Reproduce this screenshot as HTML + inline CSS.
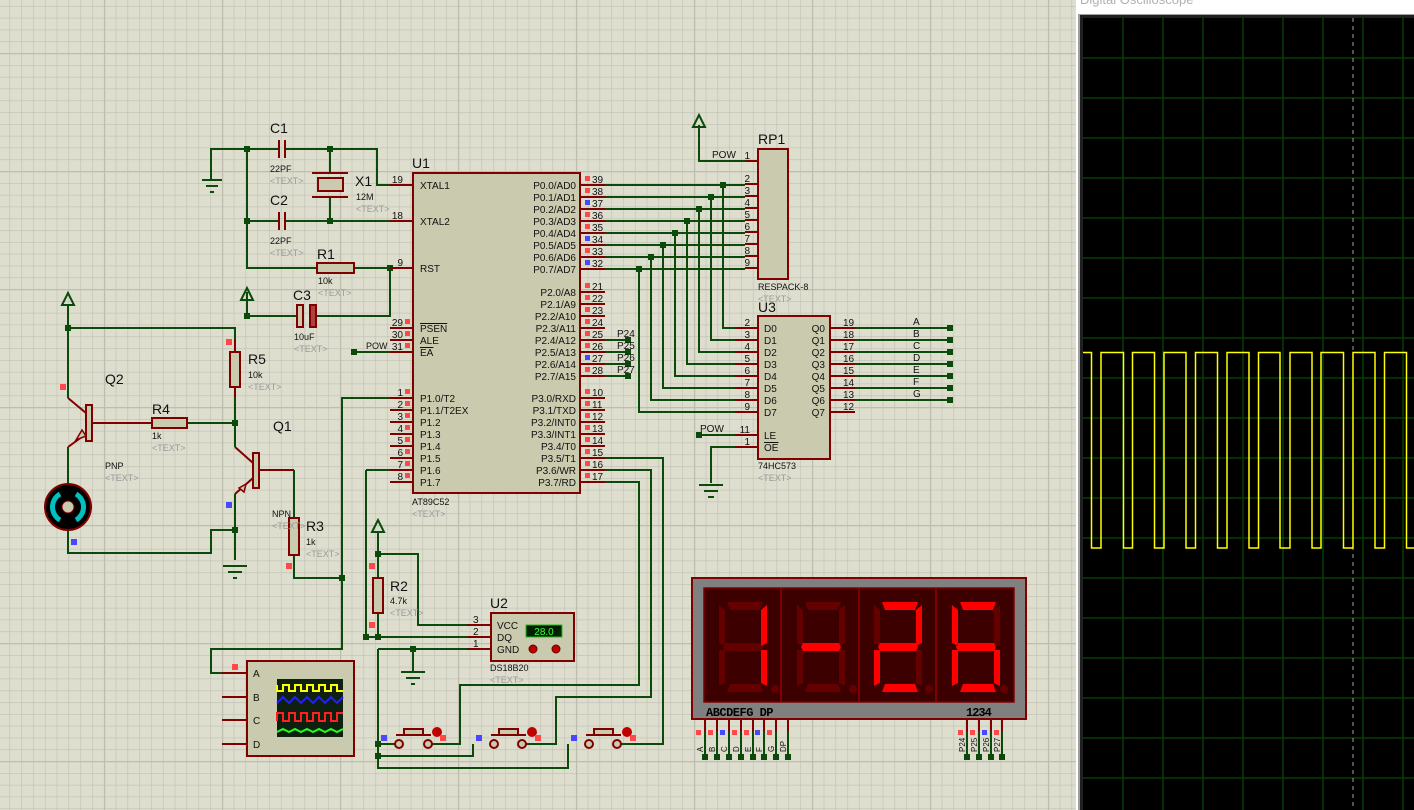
<!DOCTYPE html>
<html><head><meta charset="utf-8"><style>
html,body{margin:0;padding:0;width:1414px;height:810px;overflow:hidden;background:#dedecf}
svg{display:block}
text{font-family:"Liberation Sans",sans-serif}
.w{stroke:#0b4a0b;stroke-width:2;fill:none}
.p{stroke:#800000;stroke-width:2;fill:none}
.b{fill:#cacaae;stroke:#800000;stroke-width:2}
.t{font-size:14px;fill:#111}
.s{font-size:9px;fill:#111}
.g{font-size:9px;fill:#999}
.n{font-size:10px;fill:#111}
.d{fill:#0b4a0b}
</style></head><body>
<svg width="1414" height="810" viewBox="0 0 1414 810" xmlns="http://www.w3.org/2000/svg">
<defs>
<pattern id="mi" x="9.5" y="6" width="11.8" height="11.8" patternUnits="userSpaceOnUse"><path d="M0 0V11.8M0 0H11.8" stroke="#c0c0b3" stroke-width="1.2"/></pattern>
<pattern id="ma" x="104" y="53" width="118" height="118" patternUnits="userSpaceOnUse"><path d="M0 0V118M0 0H118" stroke="#bdbdb0" stroke-width="2.5"/></pattern>
</defs>
<rect width="1414" height="810" fill="#dedecf"/>
<rect width="1414" height="810" fill="url(#mi)"/>
<rect width="1414" height="810" fill="url(#ma)"/>

<!-- top-left crystal section -->
<g class="w">
<path d="M211 170V149H279M285 149H377V185H390"/>
<path d="M247 149V268H317M354 268H390V316H316M297 316H247V292"/>
<path d="M247 221H279M285 221H390"/>
<path d="M330 149V173M330 197V221"/>
<path d="M354 352H390"/>
</g>
<g class="p"><path d="M279 140V158M285 140V158M279 212V230M285 212V230"/><path d="M312 173H348M312 197H348"/></g>
<rect x="318" y="178" width="25" height="13" class="b"/>
<rect x="317" y="263" width="37" height="10" class="b"/>
<rect x="297" y="305" width="6" height="22" class="b"/>
<rect x="310" y="305" width="6" height="22" fill="#b04040" stroke="#800000" stroke-width="2"/>
<path d="M202 180H222M206 186H218M210 192H214" stroke="#0b4a0b" stroke-width="2"/>
<path d="M211 170V180" class="w"/>
<polygon points="241,300 247,288 253,300" fill="none" stroke="#0b4a0b" stroke-width="2"/>
<g class="d"><rect x="244" y="146" width="6" height="6"/><rect x="327" y="146" width="6" height="6"/><rect x="244" y="218" width="6" height="6"/><rect x="327" y="218" width="6" height="6"/><rect x="387" y="265" width="6" height="6"/><rect x="244" y="313" width="6" height="6"/><rect x="351" y="349" width="6" height="6"/></g>
<text x="270" y="133" class="t">C1</text><text x="270" y="172" class="s">22PF</text><text x="270" y="184" class="g">&lt;TEXT&gt;</text>
<text x="270" y="205" class="t">C2</text><text x="270" y="244" class="s">22PF</text><text x="270" y="256" class="g">&lt;TEXT&gt;</text>
<text x="355" y="186" class="t">X1</text><text x="356" y="200" class="s">12M</text><text x="356" y="212" class="g">&lt;TEXT&gt;</text>
<text x="317" y="259" class="t">R1</text><text x="318" y="284" class="s">10k</text><text x="318" y="296" class="g">&lt;TEXT&gt;</text>
<text x="293" y="300" class="t">C3</text><text x="294" y="340" class="s">10uF</text><text x="294" y="352" class="g">&lt;TEXT&gt;</text>
<text x="366" y="349" class="s">POW</text>

<!-- U1 -->
<rect x="413" y="173" width="167" height="320" class="b"/>
<text x="412" y="168" class="t">U1</text>
<text x="412" y="505" class="s">AT89C52</text><text x="412" y="517" class="g">&lt;TEXT&gt;</text>
<g class="p">
<path d="M390 185H413M390 221H413M390 268H413M390 328H413M390 340H413M390 352H413"/>
<path d="M390 398H413M390 410H413M390 422H413M390 434H413M390 446H413M390 458H413M390 470H413M390 482H413"/>
<path d="M580 185H605M580 197H605M580 209H605M580 221H605M580 233H605M580 245H605M580 257H605M580 269H605"/>
<path d="M580 292H605M580 304H605M580 316H605M580 328H605M580 340H605M580 352H605M580 364H605M580 376H605"/>
<path d="M580 398H605M580 410H605M580 422H605M580 434H605M580 446H605M580 458H605M580 470H605M580 482H605"/>
</g>
<g class="n" text-anchor="end">
<text x="403" y="183">19</text><text x="403" y="219">18</text><text x="403" y="266">9</text><text x="403" y="326">29</text><text x="403" y="338">30</text><text x="403" y="350">31</text>
<text x="403" y="396">1</text><text x="403" y="408">2</text><text x="403" y="420">3</text><text x="403" y="432">4</text><text x="403" y="444">5</text><text x="403" y="456">6</text><text x="403" y="468">7</text><text x="403" y="480">8</text>
</g>
<g class="n">
<text x="592" y="183">39</text><text x="592" y="195">38</text><text x="592" y="207">37</text><text x="592" y="219">36</text><text x="592" y="231">35</text><text x="592" y="243">34</text><text x="592" y="255">33</text><text x="592" y="267">32</text>
<text x="592" y="290">21</text><text x="592" y="302">22</text><text x="592" y="314">23</text><text x="592" y="326">24</text><text x="592" y="338">25</text><text x="592" y="350">26</text><text x="592" y="362">27</text><text x="592" y="374">28</text>
<text x="592" y="396">10</text><text x="592" y="408">11</text><text x="592" y="420">12</text><text x="592" y="432">13</text><text x="592" y="444">14</text><text x="592" y="456">15</text><text x="592" y="468">16</text><text x="592" y="480">17</text>
</g>
<g class="n">
<text x="420" y="189">XTAL1</text><text x="420" y="225">XTAL2</text><text x="420" y="272">RST</text>
<text x="420" y="332" text-decoration="overline">PSEN</text><text x="420" y="344">ALE</text><text x="420" y="356" text-decoration="overline">EA</text>
<text x="420" y="402">P1.0/T2</text><text x="420" y="414">P1.1/T2EX</text><text x="420" y="426">P1.2</text><text x="420" y="438">P1.3</text><text x="420" y="450">P1.4</text><text x="420" y="462">P1.5</text><text x="420" y="474">P1.6</text><text x="420" y="486">P1.7</text>
</g>
<g class="n" text-anchor="end">
<text x="576" y="189">P0.0/AD0</text><text x="576" y="201">P0.1/AD1</text><text x="576" y="213">P0.2/AD2</text><text x="576" y="225">P0.3/AD3</text><text x="576" y="237">P0.4/AD4</text><text x="576" y="249">P0.5/AD5</text><text x="576" y="261">P0.6/AD6</text><text x="576" y="273">P0.7/AD7</text>
<text x="576" y="296">P2.0/A8</text><text x="576" y="308">P2.1/A9</text><text x="576" y="320">P2.2/A10</text><text x="576" y="332">P2.3/A11</text><text x="576" y="344">P2.4/A12</text><text x="576" y="356">P2.5/A13</text><text x="576" y="368">P2.6/A14</text><text x="576" y="380">P2.7/A15</text>
<text x="576" y="402">P3.0/RXD</text><text x="576" y="414">P3.1/TXD</text><text x="576" y="426">P3.2/INT0</text><text x="576" y="438">P3.3/INT1</text><text x="576" y="450">P3.4/T0</text><text x="576" y="462">P3.5/T1</text><text x="576" y="474">P3.6/WR</text><text x="576" y="486">P3.7/RD</text>
</g>
<g fill="#ff4848">
<rect x="585" y="176" width="5" height="5"/><rect x="585" y="188" width="5" height="5"/><rect x="585" y="212" width="5" height="5"/><rect x="585" y="224" width="5" height="5"/><rect x="585" y="248" width="5" height="5"/>
<rect x="585" y="283" width="5" height="5"/><rect x="585" y="295" width="5" height="5"/><rect x="585" y="307" width="5" height="5"/><rect x="585" y="319" width="5" height="5"/><rect x="585" y="331" width="5" height="5"/><rect x="585" y="343" width="5" height="5"/><rect x="585" y="367" width="5" height="5"/>
<rect x="585" y="389" width="5" height="5"/><rect x="585" y="401" width="5" height="5"/><rect x="585" y="413" width="5" height="5"/><rect x="585" y="425" width="5" height="5"/><rect x="585" y="437" width="5" height="5"/><rect x="585" y="449" width="5" height="5"/><rect x="585" y="461" width="5" height="5"/><rect x="585" y="473" width="5" height="5"/>
<rect x="405" y="319" width="5" height="5"/><rect x="405" y="331" width="5" height="5"/><rect x="405" y="343" width="5" height="5"/>
<rect x="405" y="389" width="5" height="5"/><rect x="405" y="401" width="5" height="5"/><rect x="405" y="413" width="5" height="5"/><rect x="405" y="425" width="5" height="5"/><rect x="405" y="437" width="5" height="5"/><rect x="405" y="449" width="5" height="5"/><rect x="405" y="461" width="5" height="5"/><rect x="405" y="473" width="5" height="5"/>
</g>
<g fill="#4848ff"><rect x="585" y="200" width="5" height="5"/><rect x="585" y="236" width="5" height="5"/><rect x="585" y="260" width="5" height="5"/><rect x="585" y="355" width="5" height="5"/></g>

<!-- P0 bus -->
<g class="w">
<path d="M605 185H745M723 185V328H735"/>
<path d="M605 197H745M711 197V340H735"/>
<path d="M605 209H745M699 209V352H735"/>
<path d="M605 221H745M687 221V364H735"/>
<path d="M605 233H745M675 233V376H735"/>
<path d="M605 245H745M663 245V388H735"/>
<path d="M605 257H745M651 257V400H735"/>
<path d="M605 269H745M639 269V412H735"/>
<path d="M605 340H628M605 352H628M605 364H628M605 376H628"/>
<path d="M699 125V161H745"/>
<path d="M699 435H735M735 447H711V483"/>
<path d="M855 328H950M855 340H950M855 352H950M855 364H950M855 376H950M855 388H950M855 400H950"/>
</g>
<g class="d">
<rect x="720" y="182" width="6" height="6"/><rect x="708" y="194" width="6" height="6"/><rect x="696" y="206" width="6" height="6"/><rect x="684" y="218" width="6" height="6"/><rect x="672" y="230" width="6" height="6"/><rect x="660" y="242" width="6" height="6"/><rect x="648" y="254" width="6" height="6"/><rect x="636" y="266" width="6" height="6"/>
<rect x="625" y="337" width="6" height="6"/><rect x="625" y="349" width="6" height="6"/><rect x="625" y="361" width="6" height="6"/><rect x="625" y="373" width="6" height="6"/>
<rect x="696" y="432" width="6" height="6"/>
<rect x="947" y="325" width="6" height="6"/><rect x="947" y="337" width="6" height="6"/><rect x="947" y="349" width="6" height="6"/><rect x="947" y="361" width="6" height="6"/><rect x="947" y="373" width="6" height="6"/><rect x="947" y="385" width="6" height="6"/><rect x="947" y="397" width="6" height="6"/>
</g>
<g class="n"><text x="617" y="337">P24</text><text x="617" y="349">P25</text><text x="617" y="361">P26</text><text x="617" y="373">P27</text></g>
<polygon points="693,127 699,115 705,127" fill="none" stroke="#0b4a0b" stroke-width="2"/>
<path d="M699 485H723M704 491H718M708 497H714" stroke="#0b4a0b" stroke-width="2"/>

<!-- RP1 -->
<rect x="758" y="149" width="30" height="130" class="b"/>
<text x="758" y="144" class="t">RP1</text><text x="758" y="290" class="s">RESPACK-8</text><text x="758" y="302" class="g">&lt;TEXT&gt;</text>
<g class="p"><path d="M745 161H758M745 184H758M745 196H758M745 208H758M745 220H758M745 232H758M745 244H758M745 256H758M745 268H758"/></g>
<g class="n" text-anchor="end"><text x="750" y="159">1</text><text x="750" y="182">2</text><text x="750" y="194">3</text><text x="750" y="206">4</text><text x="750" y="218">5</text><text x="750" y="230">6</text><text x="750" y="242">7</text><text x="750" y="254">8</text><text x="750" y="266">9</text></g>
<text x="712" y="158" class="n">POW</text>

<!-- U3 -->
<rect x="758" y="316" width="72" height="143" class="b"/>
<text x="758" y="312" class="t">U3</text><text x="758" y="469" class="s">74HC573</text><text x="758" y="481" class="g">&lt;TEXT&gt;</text>
<g class="p"><path d="M735 328H758M735 340H758M735 352H758M735 364H758M735 376H758M735 388H758M735 400H758M735 412H758M735 435H758M735 447H758"/>
<path d="M830 328H855M830 340H855M830 352H855M830 364H855M830 376H855M830 388H855M830 400H855M830 412H855"/></g>
<g class="n" text-anchor="end"><text x="750" y="326">2</text><text x="750" y="338">3</text><text x="750" y="350">4</text><text x="750" y="362">5</text><text x="750" y="374">6</text><text x="750" y="386">7</text><text x="750" y="398">8</text><text x="750" y="410">9</text><text x="750" y="433">11</text><text x="750" y="445">1</text></g>
<g class="n"><text x="764" y="332">D0</text><text x="764" y="344">D1</text><text x="764" y="356">D2</text><text x="764" y="368">D3</text><text x="764" y="380">D4</text><text x="764" y="392">D5</text><text x="764" y="404">D6</text><text x="764" y="416">D7</text><text x="764" y="439">LE</text><text x="764" y="451" text-decoration="overline">OE</text></g>
<g class="n" text-anchor="end"><text x="825" y="332">Q0</text><text x="825" y="344">Q1</text><text x="825" y="356">Q2</text><text x="825" y="368">Q3</text><text x="825" y="380">Q4</text><text x="825" y="392">Q5</text><text x="825" y="404">Q6</text><text x="825" y="416">Q7</text></g>
<g class="n"><text x="843" y="326">19</text><text x="843" y="338">18</text><text x="843" y="350">17</text><text x="843" y="362">16</text><text x="843" y="374">15</text><text x="843" y="386">14</text><text x="843" y="398">13</text><text x="843" y="410">12</text></g>
<g class="n"><text x="913" y="325">A</text><text x="913" y="337">B</text><text x="913" y="349">C</text><text x="913" y="361">D</text><text x="913" y="373">E</text><text x="913" y="385">F</text><text x="913" y="397">G</text></g>
<text x="700" y="432" class="n">POW</text>

<!-- Left transistor section -->
<g class="w">
<path d="M68 305V398M68 328H235V340"/>
<path d="M235 398V447M187 423H235"/>
<path d="M68 447V483M68 531V553H211V530H235V560M235 494V530"/>
<path d="M294 470V518M294 555V578H342V398H390"/>
<path d="M342 578V649H211V673H222"/>
<path d="M366 470H390M366 470V637H467"/>
</g>
<g class="p">
<path d="M235 340V352M235 387V398"/>
<path d="M68 398L86 413M92 423H152M68 447L86 434"/>
<path d="M235 447L253 463M259 470H294M253 478L235 494"/>
<path d="M294 530V518"/>
</g>
<polygon points="82,430 86,436 76,440" fill="#cacaae" stroke="#800000" stroke-width="1.5"/>
<polygon points="239,488 246,484 244,492" fill="#cacaae" stroke="#800000" stroke-width="1.5"/>
<rect x="86" y="405" width="6" height="36" class="b"/>
<rect x="253" y="453" width="6" height="35" class="b"/>
<rect x="230" y="352" width="10" height="35" class="b"/>
<rect x="152" y="418" width="35" height="10" class="b"/>
<rect x="289" y="518" width="10" height="37" class="b"/>
<polygon points="62,305 68,293 74,305" fill="none" stroke="#0b4a0b" stroke-width="2"/>
<path d="M223 566H247M228 572H242M233 578H237" stroke="#0b4a0b" stroke-width="2"/>
<circle cx="68" cy="507" r="23" fill="#000" stroke="#800000" stroke-width="2"/>
<path d="M60 494A15 15 0 0 0 60 520" stroke="#00c0c0" stroke-width="5" fill="none"/>
<path d="M76 494A15 15 0 0 1 76 520" stroke="#00c0c0" stroke-width="5" fill="none"/>
<circle cx="68" cy="507" r="6" fill="#cacaae" stroke="#800000"/>
<g class="d"><rect x="65" y="325" width="6" height="6"/><rect x="232" y="420" width="6" height="6"/><rect x="232" y="527" width="6" height="6"/><rect x="339" y="575" width="6" height="6"/><rect x="363" y="634" width="6" height="6"/></g>
<text x="105" y="384" class="t">Q2</text><text x="105" y="469" class="s">PNP</text><text x="105" y="481" class="g">&lt;TEXT&gt;</text>
<text x="152" y="414" class="t">R4</text><text x="152" y="439" class="s">1k</text><text x="152" y="451" class="g">&lt;TEXT&gt;</text>
<text x="248" y="364" class="t">R5</text><text x="248" y="378" class="s">10k</text><text x="248" y="390" class="g">&lt;TEXT&gt;</text>
<text x="273" y="431" class="t">Q1</text><text x="272" y="517" class="s">NPN</text><text x="272" y="529" class="g">&lt;TEXT&gt;</text>
<text x="306" y="531" class="t">R3</text><text x="306" y="545" class="s">1k</text><text x="306" y="557" class="g">&lt;TEXT&gt;</text>
<g fill="#ff4848"><rect x="60" y="384" width="6" height="6"/><rect x="226" y="339" width="6" height="6"/><rect x="286" y="563" width="6" height="6"/><rect x="232" y="664" width="6" height="6"/></g>
<g fill="#4848ff"><rect x="71" y="539" width="6" height="6"/><rect x="226" y="502" width="6" height="6"/></g>

<!-- R2, U2 -->
<g class="w">
<path d="M378 532V554H418V625H467M378 554V578M378 613V637"/>
<path d="M378 649H467M413 649V672M378 649V768H568V744M378 744H399M378 756H473V744"/>
<path d="M428 744H460V685H639V482H605M522 744H556V697H651V470H605M617 744H663V458H605"/>
</g>
<polygon points="372,532 378,520 384,532" fill="none" stroke="#0b4a0b" stroke-width="2"/>
<rect x="373" y="578" width="10" height="35" class="b"/>
<path d="M401 672H425M406 678H420M411 684H415" stroke="#0b4a0b" stroke-width="2"/>
<g class="d"><rect x="375" y="551" width="6" height="6"/><rect x="375" y="634" width="6" height="6"/><rect x="410" y="646" width="6" height="6"/><rect x="375" y="741" width="6" height="6"/><rect x="375" y="753" width="6" height="6"/></g>
<rect x="491" y="613" width="83" height="48" class="b"/>
<g class="p"><path d="M467 625H491M467 637H491M467 649H491"/></g>
<g class="n"><text x="473" y="623">3</text><text x="473" y="635">2</text><text x="473" y="647">1</text><text x="497" y="629">VCC</text><text x="497" y="641">DQ</text><text x="497" y="653">GND</text></g>
<rect x="526" y="625" width="36" height="12" fill="#002000" stroke="#20c020"/>
<text x="544" y="635" text-anchor="middle" font-size="10" fill="#40ff40">28.0</text>
<circle cx="533" cy="649" r="4" fill="#c00000" stroke="#600"/><circle cx="556" cy="649" r="4" fill="#c00000" stroke="#600"/>
<text x="490" y="608" class="t">U2</text><text x="490" y="671" class="s">DS18B20</text><text x="490" y="683" class="g">&lt;TEXT&gt;</text>
<text x="390" y="591" class="t">R2</text><text x="390" y="604" class="s">4.7k</text><text x="390" y="616" class="g">&lt;TEXT&gt;</text>
<g fill="#ff4848"><rect x="369" y="563" width="6" height="6"/><rect x="369" y="622" width="6" height="6"/></g>

<!-- Buttons -->
<g stroke="#800000" stroke-width="2" fill="#cacaae">
<circle cx="399" cy="744" r="4"/><circle cx="428" cy="744" r="4"/><path d="M396 735H431" fill="none"/><rect x="404" y="729" width="19" height="6"/>
<circle cx="494" cy="744" r="4"/><circle cx="522" cy="744" r="4"/><path d="M491 735H526" fill="none"/><rect x="499" y="729" width="19" height="6"/>
<circle cx="589" cy="744" r="4"/><circle cx="617" cy="744" r="4"/><path d="M586 735H621" fill="none"/><rect x="594" y="729" width="19" height="6"/>
</g>
<g fill="#c00000"><circle cx="437" cy="732" r="5"/><circle cx="532" cy="732" r="5"/><circle cx="627" cy="732" r="5"/></g>
<g fill="#ff4848"><rect x="440" y="735" width="6" height="6"/><rect x="535" y="735" width="6" height="6"/><rect x="630" y="735" width="6" height="6"/></g>
<g fill="#4848ff"><rect x="381" y="735" width="6" height="6"/><rect x="476" y="735" width="6" height="6"/><rect x="571" y="735" width="6" height="6"/></g>

<!-- Logic analyzer -->
<g class="p"><path d="M222 673H247M222 697H247M222 720H247M222 744H247"/></g>
<rect x="247" y="661" width="107" height="95" class="b"/>
<g class="n"><text x="253" y="677">A</text><text x="253" y="701">B</text><text x="253" y="724">C</text><text x="253" y="748">D</text></g>
<rect x="277" y="679" width="66" height="58" fill="#102010"/>
<path d="M277 685V691H283V685H289V691H295V685H301V691H307V685H313V691H319V685H325V691H331V685H337V691H343" stroke="#ffff00" stroke-width="2" fill="none"/>
<path d="M277 703L283 697L289 703L295 697L301 703L307 697L313 703L319 697L325 703L331 697L337 703L343 697" stroke="#2020ff" stroke-width="2" fill="none"/>
<path d="M277 721V713H283V721H289V713H295V721H301V713H307V721H313V713H319V721H325V713H331V721H337V713H343" stroke="#ff2020" stroke-width="2" fill="none"/>
<path d="M277 732L283 729L289 732L295 729L301 732L307 729L313 732L319 729L325 732L331 729L337 732L343 729" stroke="#20ff20" stroke-width="2" fill="none"/>

<!-- 7 segment display -->
<rect x="692" y="578" width="334" height="141" fill="#808080" stroke="#800000" stroke-width="2"/>
<rect x="704" y="588" width="310" height="114" fill="#3c0000" stroke="#800000" stroke-width="1.5"/>
<path d="M781 588V702M859 588V702M936 588V702" stroke="#800000" stroke-width="2"/>
<g fill="#650000">
<path d="M727 602h36l-3 8h-30z M767 605v38l-6 3v-36z M767 650v36l-6-3v-33z M727 692h36l-3-8h-30z M719 650v36l6-3v-33z M719 605v38l6 3v-36z M725 643h36l2 4-2 4h-36l-2-4z"/>
<path d="M805 602h36l-3 8h-30z M845 605v38l-6 3v-36z M845 650v36l-6-3v-33z M805 692h36l-3-8h-30z M797 650v36l6-3v-33z M797 605v38l6 3v-36z"/>
<path d="M1000 605v38l-6 3v-36z"/>
<path d="M874 605v38l6 3v-36z M922 650v36l-6-3v-33z"/>
<circle cx="775" cy="689" r="4"/><circle cx="853" cy="689" r="4"/><circle cx="929" cy="689" r="4"/><circle cx="1004" cy="689" r="4"/>
</g>
<g fill="#ff0000">
<path d="M767 605v38l-6 3v-36z M767 650v36l-6-3v-33z"/>
<path d="M803 643h36l2 4-2 4h-36l-2-4z"/>
<path d="M882 602h36l-3 8h-30z M922 605v38l-6 3v-36z M880 643h36l2 4-2 4h-36l-2-4z M874 650v36l6-3v-33z M882 692h36l-3-8h-30z"/>
<path d="M960 602h36l-3 8h-30z M952 605v38l6 3v-36z M958 643h36l2 4-2 4h-36l-2-4z M952 650v36l6-3v-33z M1000 650v36l-6-3v-33z M960 692h36l-3-8h-30z"/>
</g>
<text x="706" y="716" font-size="12" font-weight="bold" fill="#000" style="font-family:'Liberation Mono',monospace" letter-spacing="-0.5">ABCDEFG DP</text>
<text x="966" y="716" font-size="12" font-weight="bold" fill="#000" style="font-family:'Liberation Mono',monospace" letter-spacing="-1">1234</text>
<g class="p"><path d="M705 719V731M717 719V731M729 719V731M741 719V731M753 719V731M764 719V731M776 719V731M788 719V731M967 719V731M979 719V731M991 719V731M1002 719V731"/></g>
<g class="w"><path d="M705 731V757M717 731V757M729 731V757M741 731V757M753 731V757M764 731V757M776 731V757M788 731V757M967 731V757M979 731V757M991 731V757M1002 731V757"/></g>
<g class="d"><rect x="702" y="754" width="6" height="6"/><rect x="714" y="754" width="6" height="6"/><rect x="726" y="754" width="6" height="6"/><rect x="738" y="754" width="6" height="6"/><rect x="750" y="754" width="6" height="6"/><rect x="761" y="754" width="6" height="6"/><rect x="773" y="754" width="6" height="6"/><rect x="785" y="754" width="6" height="6"/><rect x="964" y="754" width="6" height="6"/><rect x="976" y="754" width="6" height="6"/><rect x="988" y="754" width="6" height="6"/><rect x="999" y="754" width="6" height="6"/></g>
<g fill="#ff4848"><rect x="696" y="730" width="5" height="5"/><rect x="708" y="730" width="5" height="5"/><rect x="732" y="730" width="5" height="5"/><rect x="744" y="730" width="5" height="5"/><rect x="767" y="730" width="5" height="5"/><rect x="958" y="730" width="5" height="5"/><rect x="970" y="730" width="5" height="5"/><rect x="994" y="730" width="5" height="5"/></g>
<g fill="#4848ff"><rect x="720" y="730" width="5" height="5"/><rect x="755" y="730" width="5" height="5"/><rect x="982" y="730" width="5" height="5"/></g>
<g font-size="8" fill="#111">
<text transform="translate(703,752) rotate(-90)">A</text><text transform="translate(715,752) rotate(-90)">B</text><text transform="translate(727,752) rotate(-90)">C</text><text transform="translate(739,752) rotate(-90)">D</text><text transform="translate(751,752) rotate(-90)">E</text><text transform="translate(762,752) rotate(-90)">F</text><text transform="translate(774,752) rotate(-90)">G</text><text transform="translate(786,752) rotate(-90)">DP</text>
<text transform="translate(965,752) rotate(-90)">P24</text><text transform="translate(977,752) rotate(-90)">P25</text><text transform="translate(989,752) rotate(-90)">P26</text><text transform="translate(1000,752) rotate(-90)">P27</text>
</g>

<!-- Oscilloscope -->
<rect x="1076" y="0" width="338" height="810" fill="#ffffff"/>
<text x="1080" y="4" font-size="13" fill="#b0b0b0">Digital Oscilloscope</text>
<rect x="1078" y="14" width="336" height="796" fill="#a0a0a0"/>
<rect x="1080" y="15" width="334" height="795" fill="#202020"/>
<rect x="1083" y="18" width="331" height="792" fill="#000"/>
<g stroke="#063f06" stroke-width="1.5">
<path d="M1123 18V810M1163 18V810M1203 18V810M1243 18V810M1283 18V810M1323 18V810M1363 18V810M1403 18V810"/>
<path d="M1083 58H1414M1083 98H1414M1083 138H1414M1083 178H1414M1083 218H1414M1083 258H1414M1083 298H1414M1083 338H1414M1083 378H1414M1083 418H1414M1083 458H1414M1083 498H1414M1083 538H1414M1083 578H1414M1083 618H1414M1083 658H1414M1083 698H1414M1083 738H1414M1083 778H1414"/>
</g>
<path d="M1353 18V810" stroke="#a0a0a0" stroke-width="1" stroke-dasharray="4,4"/>
<path d="M1083 352.5H1091.5V548H1101V352.5H1123.5V548H1132.5V352.5H1154.5V548H1164V352.5H1186V548H1195.5V352.5H1217.5V548H1227V352.5H1249V548H1258.5V352.5H1280V548H1290V352.5H1312V548H1321V352.5H1343.5V548H1353V352.5H1375V548H1384.5V352.5H1406.5V548H1414" stroke="#ffff00" stroke-width="1.5" fill="none"/>
</svg>
</body></html>
